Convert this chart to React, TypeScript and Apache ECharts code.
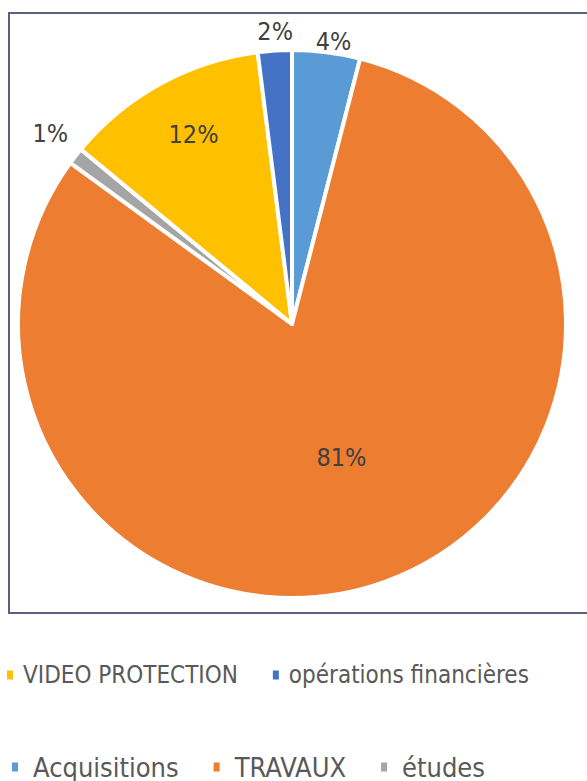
import React, { useEffect, useRef } from "react";
import * as echarts from "echarts";

const categories = ["Acquisitions", "TRAVAUX", "études", "VIDEO PROTECTION", "opérations financières"];
const values = [4, 81, 1, 12, 2];
const colors = ["#5B9BD5", "#ED7D31", "#A5A5A5", "#FFC000", "#4472C4"];
const legendRow1 = ["VIDEO PROTECTION", "opérations financières"];
const legendRow2 = ["Acquisitions", "TRAVAUX", "études"];

// label nudges (dx, dy) from the default inside position
const labelShift: [number, number][] = [
  [24, -144],
  [2, 2],
  [-131, -105],
  [-31, -67],
  [-8, -153],
];

const FONT = "'Liberation Sans Narrow', 'DejaVu Sans Condensed', 'Roboto Condensed', sans-serif";

export default function App() {
  const ref = useRef<HTMLDivElement>(null);
  useEffect(() => {
    if (!ref.current) return;
    const chart = echarts.init(ref.current, null, { renderer: "svg" });
    const legendCommon = {
      orient: "horizontal",
      icon: "rect",
      itemWidth: 8,
      itemHeight: 11,
      itemGap: 33,
      padding: 0,
      selectedMode: false,
    };
    const legendText = (size: number, padLeft: number) => ({
      color: "#595959",
      fontSize: size,
      fontFamily: FONT,
      lineHeight: 30,
      padding: [0, 0, 0, padLeft],
    });
    chart.setOption({
      animation: false,
      backgroundColor: "#ffffff",
      color: colors,
      graphic: [
        {
          type: "rect",
          shape: { x: 9, y: 13, width: 620, height: 600 },
          style: { fill: "none", stroke: "#57637A", lineWidth: 2 },
          z: 0,
          silent: true,
        },
      ],
      legend: [
        { ...legendCommon, left: 5, top: 660, data: legendRow1, textStyle: legendText(24, 4) },
        { ...legendCommon, left: 10, top: 752, data: legendRow2, textStyle: legendText(27, 9) },
      ],
      series: [
        {
          type: "pie",
          center: [292, 324],
          radius: [0, 274],
          startAngle: 90,
          clockwise: true,
          avoidLabelOverlap: false,
          itemStyle: { borderColor: "#ffffff", borderWidth: 4 },
          label: {
            show: true,
            position: "inside",
            formatter: "{c}%",
            color: "#404040",
            fontSize: 25,
            fontFamily: FONT,
          },
          labelLine: { show: false },
          labelLayout: (params: any) => {
            const s = labelShift[params.dataIndex] || [0, 0];
            return { dx: s[0], dy: s[1] };
          },
          emphasis: { disabled: true },
          data: categories.map((name, i) => ({ name, value: values[i] })),
        },
      ],
    });
    return () => chart.dispose();
  }, []);
  return (
    <div
      ref={ref}
      style={{ position: "absolute", left: 0, top: 0, width: 587, height: 781 }}
    />
  );
}
